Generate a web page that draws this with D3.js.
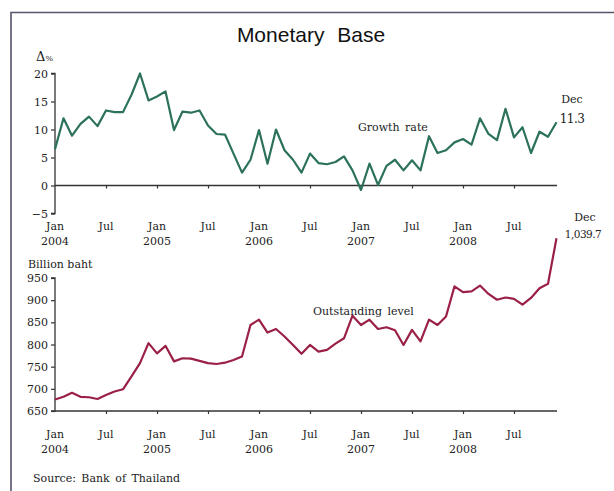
<!DOCTYPE html>
<html><head><meta charset="utf-8">
<script src="https://cdn.jsdelivr.net/npm/d3@7"></script>
<style>body{margin:0;background:#fff}svg{display:block}</style>
</head><body>
<svg id="c" width="614" height="491"></svg>
<script>
// ---- data ----
const months = d3.range(60); // Jan 2004 .. Dec 2008
const growthRate = [6.5,12.0,8.9,11.0,12.3,10.6,13.4,13.1,13.1,16.2,20.0,15.2,
  15.9,16.8,9.9,13.2,13.0,13.4,10.7,9.2,9.1,5.7,2.3,4.6,
  9.9,3.9,10.0,6.3,4.6,2.3,5.7,4.0,3.8,4.2,5.2,2.7,
  -0.8,3.9,0.1,3.5,4.6,2.7,4.5,2.7,8.8,5.8,6.3,7.7,
  8.3,7.3,12.0,9.2,8.1,13.7,8.6,10.4,5.8,9.6,8.7,11.3];
const outstanding = [676,682,691,682,681,677,686,694,699,728,758,803,
  780,797,762,769,768,763,758,756,759,765,773,844,
  856,827,835,818,799,779,799,784,788,802,814,865,
  844,856,835,839,832,799,833,807,856,844,863,931,
  918,920,933,914,901,906,903,890,905,927,937,1039.7];
const xTickMonths = [0,6,12,18,24,30,36,42,48,54];
const xTickLabels = ["Jan","Jul","Jan","Jul","Jan","Jul","Jan","Jul","Jan","Jul"];
const yearLabels = ["2004","","2005","","2006","","2007","","2008",""];
const growthTicks = [-5,0,5,10,15,20];
const levelTicks = [650,700,750,800,850,900,950];

const svg = d3.select("#c");
const serif = "'DejaVu Serif',serif";
const ink = "#222";
const fs = 11;

// frame
svg.append("path").attr("d","M11,491 V12.5 H614").attr("fill","none")
  .attr("stroke","#55556e").attr("stroke-width",1.6);

svg.append("text").attr("x",311).attr("y",42).attr("text-anchor","middle")
  .attr("font-family","'Liberation Sans',Arial,sans-serif").attr("font-size",21)
  .attr("fill","#111").attr("word-spacing","7px").text("Monetary Base");

const x = d3.scaleLinear().domain([0,59]).range([55,556.5]);
const yTop = d3.scaleLinear().domain([-5,20]).range([213.5,73.5]);
const yBot = d3.scaleLinear().domain([650,950]).range([411,278]);

function yAxis(scale, ticks){
  const g = svg.append("g").attr("transform","translate(55,0)")
    .call(d3.axisLeft(scale).tickValues(ticks).tickSize(4).tickPadding(3));
  g.select(".domain").attr("stroke","#333").attr("stroke-width",1.3).attr("d",
    `M-4,${scale(ticks[ticks.length-1])}H0V${scale(ticks[0])}H-4`);
  g.selectAll(".tick line").attr("stroke","#333").attr("stroke-width",1.2);
  g.selectAll("text").attr("font-family",serif).attr("font-size",fs).attr("fill",ink);
  return g;
}
function xAxis(yPos, labelY){
  const g = svg.append("g").attr("transform",`translate(0,${yPos})`)
    .call(d3.axisBottom(x).tickValues(xTickMonths.slice(1)).tickSize(3).tickFormat(""));
  g.select(".domain").attr("stroke","#333").attr("stroke-width",1.3).attr("d",`M55,0H557`);
  g.selectAll(".tick line").attr("stroke","#333").attr("stroke-width",1.2);
  const lab = svg.append("g");
  xTickMonths.forEach((m,i)=>{
    lab.append("text").attr("x",x(m)).attr("y",labelY).attr("text-anchor","middle")
      .attr("font-family",serif).attr("font-size",fs).attr("fill",ink).text(xTickLabels[i]);
    if(yearLabels[i]) lab.append("text").attr("x",x(m)).attr("y",labelY+15).attr("text-anchor","middle")
      .attr("font-family",serif).attr("font-size",fs).attr("fill",ink).text(yearLabels[i]);
  });
}

// top chart
yAxis(yTop, growthTicks);
xAxis(yTop(0), 230);
svg.append("text").attr("x",36).attr("y",61).attr("font-family",serif).attr("font-size",13).attr("fill",ink)
  .text("Δ").append("tspan").attr("font-size",8).text("%");
svg.append("path").datum(growthRate)
  .attr("d", d3.line().x((d,i)=>x(months[i])).y(d=>yTop(d)))
  .attr("fill","none").attr("stroke","#2b7258").attr("stroke-width",2.2).attr("stroke-linejoin","round");
svg.append("text").attr("x",358).attr("y",131).attr("font-family",serif).attr("font-size",fs).attr("fill",ink)
  .attr("word-spacing","2px").text("Growth rate");
svg.append("text").attr("x",572).attr("y",103).attr("text-anchor","middle").attr("font-family",serif).attr("font-size",fs).attr("fill",ink).text("Dec");
svg.append("text").attr("x",572).attr("y",123).attr("text-anchor","middle").attr("font-family",serif).attr("font-size",12).attr("fill",ink).attr("letter-spacing","-0.5px").text("11.3");

// bottom chart
yAxis(yBot, levelTicks);
xAxis(yBot(650), 438);
svg.append("text").attr("x",28).attr("y",268).attr("font-family",serif).attr("font-size",fs).attr("fill",ink).text("Billion baht");
svg.append("path").datum(outstanding)
  .attr("d", d3.line().x((d,i)=>x(months[i])).y(d=>yBot(d)))
  .attr("fill","none").attr("stroke","#9a2046").attr("stroke-width",2.2).attr("stroke-linejoin","round");
svg.append("text").attr("x",313).attr("y",315).attr("font-family",serif).attr("font-size",fs).attr("fill",ink)
  .attr("word-spacing","2px").text("Outstanding level");
svg.append("text").attr("x",585).attr("y",221).attr("text-anchor","middle").attr("font-family",serif).attr("font-size",fs).attr("fill",ink).text("Dec");
svg.append("text").attr("x",583).attr("y",238).attr("text-anchor","middle").attr("font-family",serif).attr("font-size",10.5).attr("fill",ink).attr("letter-spacing","-0.5px").text("1,039.7");

svg.append("text").attr("x",33).attr("y",482).attr("font-family",serif).attr("font-size",fs).attr("fill",ink)
  .attr("word-spacing","2px").text("Source: Bank of Thailand");
</script>
</body></html>
